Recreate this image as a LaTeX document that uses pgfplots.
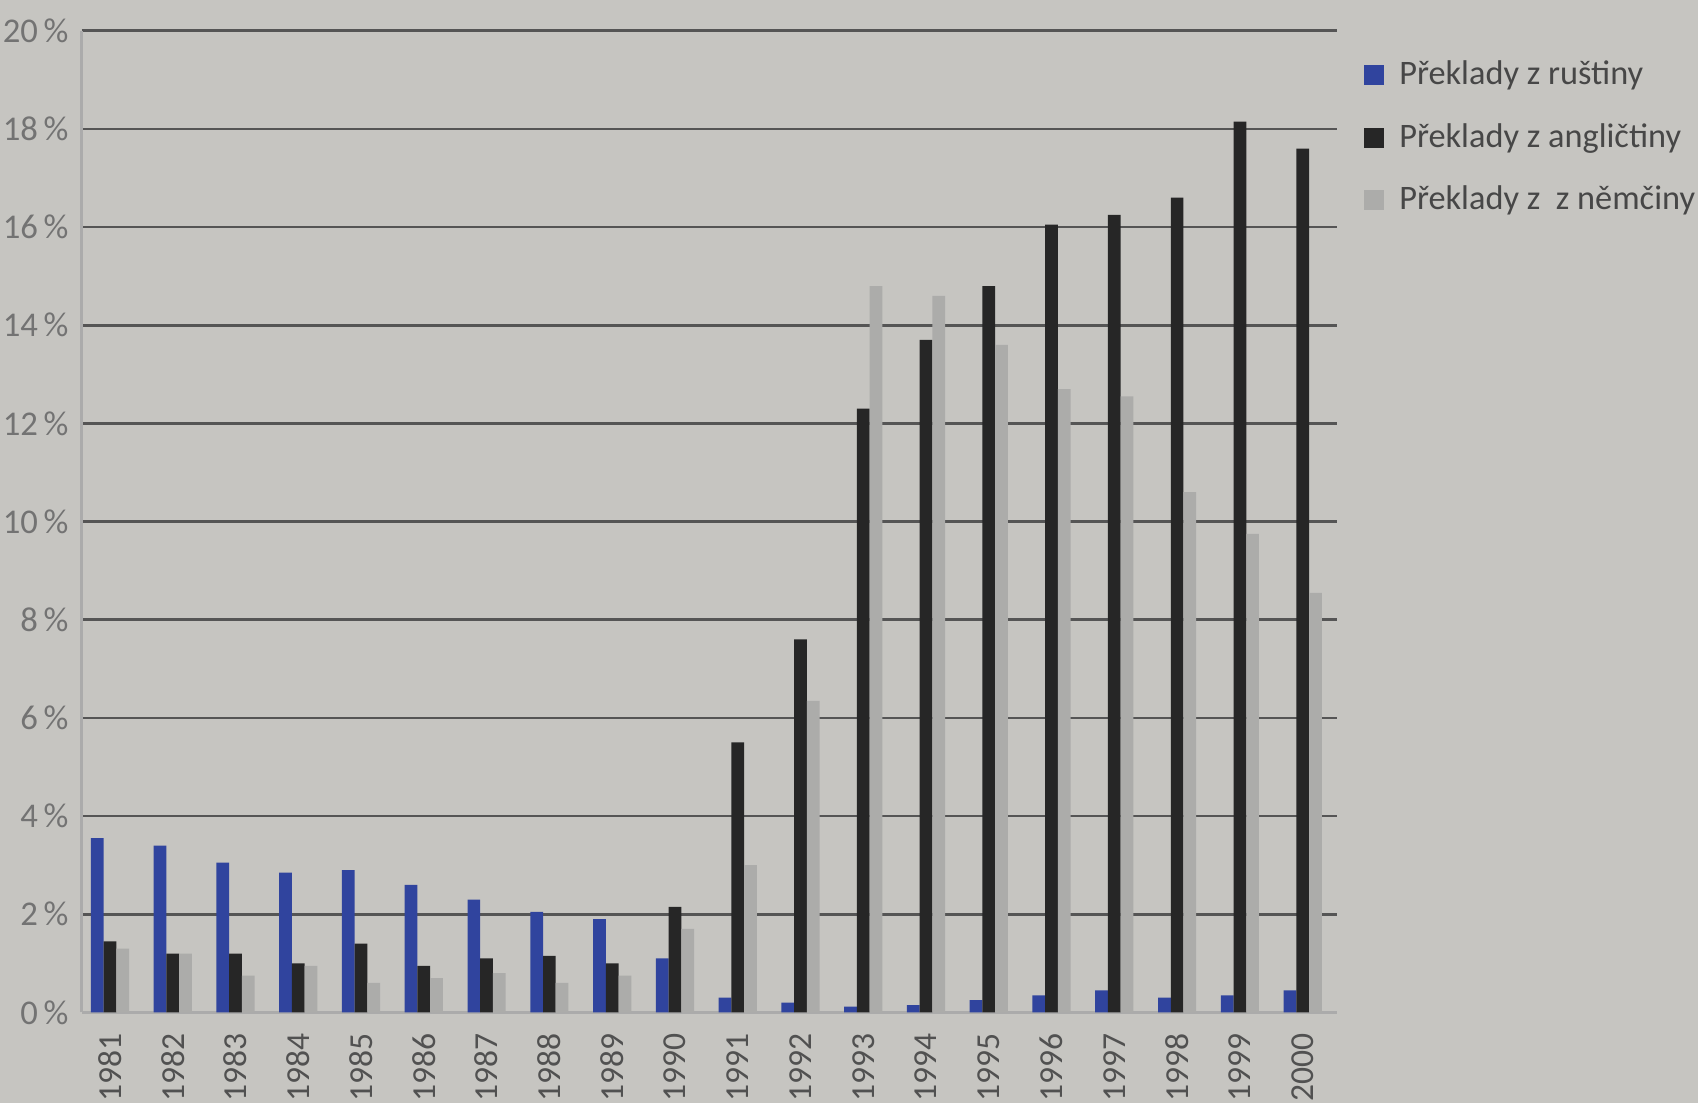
\documentclass[border=0pt]{standalone}
\usepackage{pgfplots}
\pgfplotsset{compat=1.18}
\usepackage{pgfplotstable}
\usepackage{fontspec}
\setmainfont{Carlito}
\definecolor{bg}{RGB}{198,197,193}
\definecolor{ru}{RGB}{48,68,158}
\definecolor{en}{RGB}{38,38,38}
\definecolor{de}{RGB}{172,172,170}
\definecolor{grid}{RGB}{85,85,85}
\definecolor{lab}{RGB}{115,115,115}
\pgfplotstableread{
x year ru en de
0 1981 3.55 1.45 1.3
1 1982 3.4 1.2 1.2
2 1983 3.05 1.2 0.75
3 1984 2.85 1.0 0.95
4 1985 2.9 1.4 0.6
5 1986 2.6 0.95 0.7
6 1987 2.3 1.1 0.8
7 1988 2.05 1.15 0.6
8 1989 1.9 1.0 0.75
9 1990 1.1 2.15 1.7
10 1991 0.3 5.5 3.0
11 1992 0.2 7.6 6.35
12 1993 0.12 12.3 14.8
13 1994 0.15 13.7 14.6
14 1995 0.25 14.8 13.6
15 1996 0.35 16.05 12.7
16 1997 0.45 16.25 12.55
17 1998 0.3 16.6 10.6
18 1999 0.35 18.15 9.75
19 2000 0.45 17.6 8.55
}\data
\begin{document}
\begin{tikzpicture}
\useasboundingbox[fill=bg] (0,0) rectangle (16cm,10.39cm);
\begin{axis}[
  at={(0.77cm,0.85cm)}, anchor=south west,
  scale only axis, width=11.83cm, height=9.25cm,
  ybar=0pt, bar width=0.12cm,
  xmin=-0.45, xmax=19.55, ymin=0, ymax=20,
  xtick={0,...,19},
  xticklabels={1981,1982,1983,1984,1985,1986,1987,1988,1989,1990,1991,1992,1993,1994,1995,1996,1997,1998,1999,2000},
  ytick={0,2,...,20},
  yticklabels={0\,\%,2\,\%,4\,\%,6\,\%,8\,\%,10\,\%,12\,\%,14\,\%,16\,\%,18\,\%,20\,\%},
  major tick length=0pt,
  axis x line*=bottom, axis y line*=left,
  axis line style={-, draw=lab!60, line width=0.8pt},
  ymajorgrids, grid style={draw=grid, line width=0.7pt},
  yticklabel style={font=\fontsize{9.3}{11}\selectfont, text=lab},
  xticklabel style={font=\fontsize{9}{11}\selectfont, text=lab!70!black, rotate=90, anchor=east, xshift=-2pt},
  legend style={at={(1.012,0.985)}, anchor=north west, draw=none, fill=none,
    font=\fontsize{9.2}{11}\selectfont, text=en!85, row sep=0.17cm,
    legend cell align=left, nodes={inner xsep=4pt}},
  legend image code/.code={\fill[#1] (0cm,-0.09cm) rectangle (0.19cm,0.1cm);},
]
\addplot[fill=ru, draw=none] table[x=x, y=ru] {\data};
\addplot[fill=en, draw=none] table[x=x, y=en] {\data};
\addplot[fill=de, draw=none] table[x=x, y=de] {\data};
\legend{Překlady z ruštiny, Překlady z angličtiny, Překlady z\ \ z němčiny}
\end{axis}
\end{tikzpicture}
\end{document}
